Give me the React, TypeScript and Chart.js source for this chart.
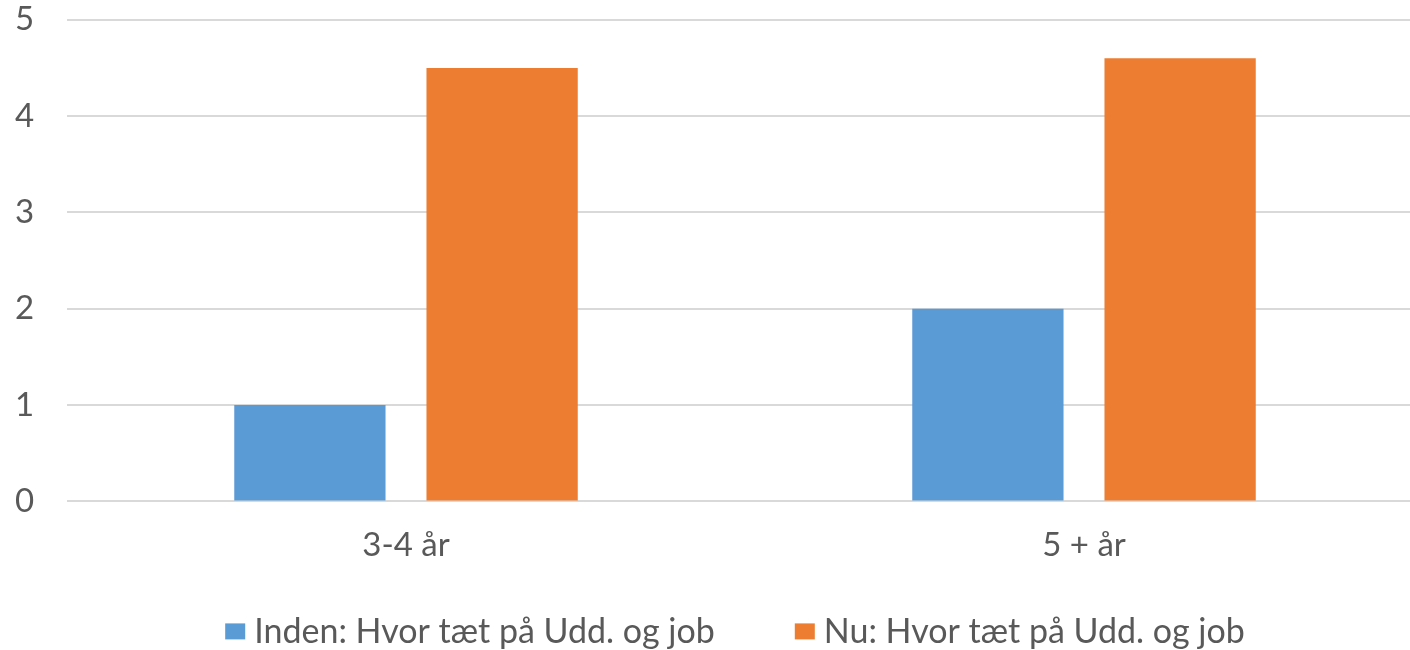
import React, { useEffect, useRef } from "react";
import { Chart, registerables } from "chart.js";

Chart.register(...registerables);

const categories = ["3-4 år", "5 + år"];
const seriesNames = ["Inden: Hvor tæt på Udd. og job", "Nu: Hvor tæt på Udd. og job"];
const indenValues = [1, 2];
const nuValues = [4.5, 4.6];
const yTicks = [0, 1, 2, 3, 4, 5];

const FONT = "Lato, 'Open Sans', sans-serif";
const TEXT_COLOR = "#595959";
const CANVAS_W = 1423;

const customLegend = {
  id: "customLegend",
  afterDraw(chart: any) {
    const ctx = chart.ctx as CanvasRenderingContext2D;
    const area = chart.chartArea;
    const datasets = chart.data.datasets;
    const boxW = 20;
    const boxH = 16;
    const gapBoxText = 9;
    const itemGap = 80;
    ctx.save();
    ctx.font = `34px ${FONT}`;
    const widths = datasets.map((d: any) => ctx.measureText(d.label).width);
    let total = 0;
    widths.forEach((w: number, i: number) => {
      total += boxW + gapBoxText + w + (i < widths.length - 1 ? itemGap : 0);
    });
    const cx = 735;
    const cy = area.bottom + 130;
    let x = cx - total / 2;
    ctx.textBaseline = "middle";
    ctx.textAlign = "left";
    datasets.forEach((d: any, i: number) => {
      ctx.fillStyle = d.backgroundColor;
      ctx.fillRect(x, cy - boxH / 2, boxW, boxH);
      x += boxW + gapBoxText;
      ctx.fillStyle = TEXT_COLOR;
      ctx.fillText(d.label, x, cy + 1);
      x += widths[i] + itemGap;
    });
    ctx.restore();
  },
};

export default function App() {
  const ref = useRef<HTMLCanvasElement | null>(null);
  useEffect(() => {
    document.body.style.margin = "0";
    document.body.style.overflow = "hidden";
    const ctx = ref.current!;
    const chart = new Chart(ctx, {
      type: "bar",
      data: {
        labels: categories,
        datasets: [
          {
            label: seriesNames[0],
            data: indenValues,
            backgroundColor: "#5B9BD5",
            categoryPercentage: 0.567,
            barPercentage: 0.787,
          },
          {
            label: seriesNames[1],
            data: nuValues,
            backgroundColor: "#ED7D31",
            categoryPercentage: 0.567,
            barPercentage: 0.787,
          },
        ],
      },
      options: {
        animation: false,
        responsive: false,
        maintainAspectRatio: false,
        layout: { padding: { top: 4, right: 0, left: 15, bottom: 61 } },
        scales: {
          x: {
            afterFit: (scale: any) => {
              scale.paddingLeft = 0;
              scale.paddingRight = 0;
            },
            grid: { display: false, drawTicks: false },
            border: { display: false },
            ticks: { color: TEXT_COLOR, font: { family: FONT, size: 33 }, padding: 24 },
          },
          y: {
            min: 0,
            max: 5,
            afterBuildTicks: (scale: any) => {
              scale.ticks = yTicks.map((v) => ({ value: v }));
            },
            afterFit: (scale: any) => {
              scale.width = 52;
            },
            grid: { color: "#D9D9D9", lineWidth: 2, drawTicks: false },
            border: { display: false },
            ticks: { color: TEXT_COLOR, font: { family: FONT, size: 33 }, padding: 0, crossAlign: "far" },
          },
        },
        plugins: {
          tooltip: { enabled: false },
          legend: { display: false },
        },
      },
      plugins: [customLegend],
    });
    return () => chart.destroy();
  }, []);
  return (
    <div style={{ position: "absolute", left: 0, top: 0, width: 1410, height: 650, overflow: "hidden" }}>
      <canvas ref={ref} width={CANVAS_W} height={650} style={{ display: "block", width: CANVAS_W, height: 650 }} />
    </div>
  );
}
